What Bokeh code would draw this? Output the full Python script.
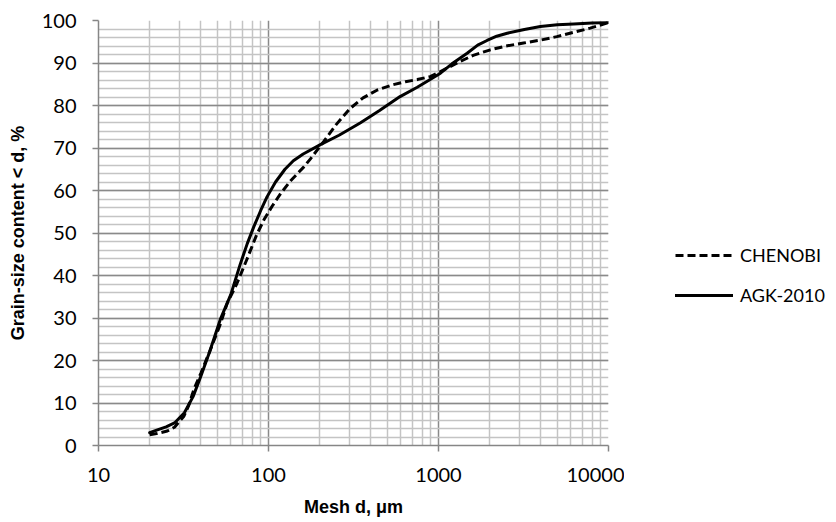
from bokeh.plotting import figure
from bokeh.layouts import row
from bokeh.models import FixedTicker, Legend, LegendItem, ColumnDataSource, Range1d
from bokeh.embed import file_html
from bokeh.resources import INLINE

# ---- data ----
chenobi_d = [20, 22, 25.4, 28, 31.8, 34, 36.4, 40, 45.6, 52, 57.2, 65, 75, 85, 94, 105, 118, 135, 161, 177, 211,
             250, 302, 360, 434, 530, 639, 750, 893, 1027, 1346, 1600, 2020, 2500, 3165, 4000, 4965, 6200, 7800, 10000]
chenobi_p = [2.5, 2.8, 3.4, 4.3, 6.9, 9.5, 13.2, 17.0, 22.6, 28.5, 33.5, 38.0, 44.0, 49.5, 53.1, 56.3, 59.3, 62.3, 65.5, 67.5, 71.5,
             75.5, 79.3, 81.8, 83.6, 84.8, 85.6, 86.1, 86.8, 88.0, 90.4, 91.8, 93.1, 94.0, 94.7, 95.4, 96.2, 97.2, 98.2, 99.5]

agk_d = [20, 22, 25, 28, 32, 36, 40, 45, 52, 60, 68, 75, 82, 90, 98, 110, 125, 140, 160, 202, 260, 346, 450, 594, 750, 893,
         1027, 1200, 1474, 1700, 1930, 2200, 2535, 3200, 3975, 5000, 6250, 8000, 10000]
agk_p = [3.0, 3.6, 4.4, 5.3, 7.7, 11.5, 16.3, 22.0, 29.6, 35.5, 42.5, 47.5, 51.5, 55.3, 58.5, 62.0, 65.0, 67.0, 68.6, 70.8, 73.0, 75.9, 78.8, 82.1, 84.3, 86.1,
         87.6, 89.8, 92.3, 94.2, 95.3, 96.3, 97.0, 97.9, 98.6, 99.0, 99.2, 99.4, 99.5]

x_major = [10, 100, 1000, 10000]
x_minor = [m * 10 ** k for k in range(1, 4) for m in range(2, 10)]
y_major = list(range(0, 101, 10))
y_minor = list(range(0, 101, 2))

series_names = ["CHENOBI", "AGK-2010"]

TICK_FONT = "Lato"
LABEL_FONT = "Liberation Sans"

p = figure(frame_width=510, frame_height=425, x_axis_type="log", x_range=(10, 10000), y_range=(0, 100),
           output_backend="svg", toolbar_location=None,
           min_border_left=98, min_border_right=16, min_border_top=20, min_border_bottom=68)
p.outline_line_color = None
p.background_fill_color = "white"

p.xaxis.ticker = FixedTicker(ticks=x_major, minor_ticks=x_minor)
p.yaxis.ticker = FixedTicker(ticks=y_major, minor_ticks=y_minor)
p.xaxis.major_label_overrides = {t: str(t) for t in x_major}

for g in (p.xgrid, p.ygrid):
    g.grid_line_color = "#8a8a8a"
    g.grid_line_width = 1.5
    g.minor_grid_line_color = "#c4c4c4"
    g.minor_grid_line_width = 1.5

for ax in (p.xaxis, p.yaxis):
    ax.axis_line_color = "#868686"
    ax.axis_line_width = 1.5
    ax.major_tick_line_color = "#868686"
    ax.major_tick_line_width = 1.5
    ax.major_tick_in = 0
    ax.major_tick_out = 6
    ax.minor_tick_in = 0
    ax.minor_tick_out = 0
    ax.major_label_text_font = TICK_FONT
    ax.major_label_text_font_size = "20px"
    ax.major_label_text_color = "black"
    ax.axis_label_text_font = LABEL_FONT
    ax.axis_label_text_font_size = "18px"
    ax.axis_label_text_font_style = "bold"
    ax.axis_label_text_color = "black"

p.xaxis.major_label_standoff = 16
p.yaxis.major_label_standoff = 16
p.xaxis.axis_label = "Mesh d, \u03bcm"
p.yaxis.axis_label = "Grain-size content < d, %"
p.xaxis.axis_label_standoff = 12
p.yaxis.axis_label_standoff = 11

src_c = ColumnDataSource(dict(x=chenobi_d, y=chenobi_p))
src_a = ColumnDataSource(dict(x=agk_d, y=agk_p))
line_c = dict(line_color="black", line_width=3, line_dash="8 4")
line_a = dict(line_color="black", line_width=3, line_join="round", line_cap="round")
p.line("x", "y", source=src_c, **line_c)
p.line("x", "y", source=src_a, **line_a)

# legend lives in a side figure so that it is not clipped by the plot frame;
# its ranges lie outside the data, so only the legend itself shows there
lf = figure(width=212, height=506, x_range=Range1d(-2, -1), y_range=Range1d(-2, -1),
            output_backend="svg", toolbar_location=None,
            x_axis_location=None, y_axis_location=None,
            min_border=0, min_border_left=0, min_border_right=0, min_border_top=0, min_border_bottom=0)
lf.outline_line_color = None
lf.xgrid.visible = False
lf.ygrid.visible = False
lr1 = lf.line("x", "y", source=src_c, **line_c)
lr2 = lf.line("x", "y", source=src_a, **line_a)

legend = Legend(items=[LegendItem(label=series_names[0], renderers=[lr1]),
                       LegendItem(label=series_names[1], renderers=[lr2])],
                location=(51, 126))
legend.glyph_width = 58
legend.glyph_height = 20
legend.label_height = 20
legend.label_standoff = 7
legend.spacing = 18
legend.padding = 0
legend.margin = 0
legend.border_line_color = None
legend.background_fill_alpha = 0
legend.label_text_font = TICK_FONT
legend.label_text_font_size = "18px"
legend.label_text_color = "black"
lf.add_layout(legend, "center")

layout = row(p, lf)
open("out.html", "w").write(file_html(layout, INLINE))
